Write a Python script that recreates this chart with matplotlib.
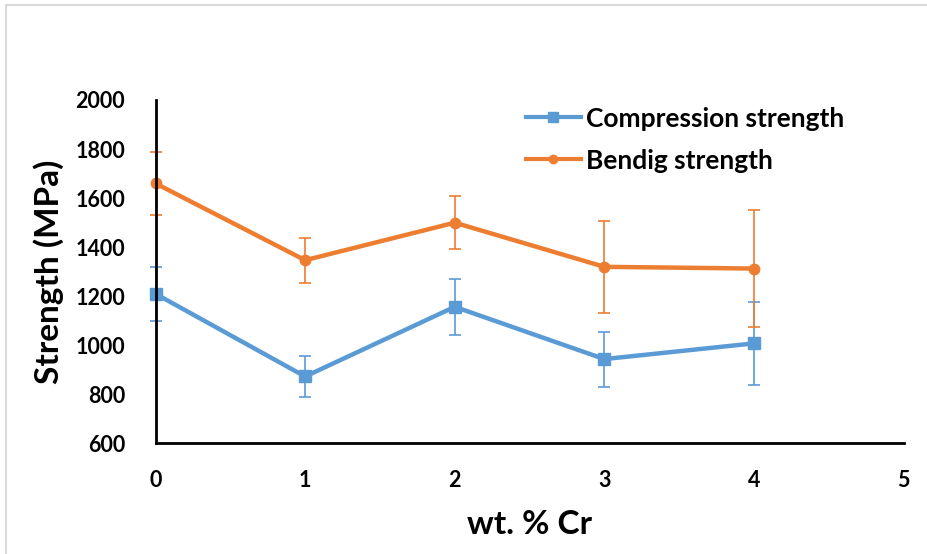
import matplotlib.pyplot as plt
from matplotlib.patches import Rectangle
from matplotlib.lines import Line2D

# Cr content (wt.%)
cr = [0, 1, 2, 3, 4]

# strength values (MPa) with standard deviations
compression = [1210, 873, 1157, 944, 1008]
compression_err = [110, 85, 115, 112, 170]
bending = [1660, 1347, 1500, 1320, 1313]
bending_err = [130, 92, 108, 187, 237]

blue = '#5B9BD5'
orange = '#ED7D31'

plt.rcParams['font.family'] = ['Lato', 'DejaVu Sans']
plt.rcParams['font.weight'] = 'bold'

fig = plt.figure(figsize=(9.28, 5.54), dpi=100)
ax = fig.add_axes([0.1676, 0.1995, 0.806, 0.62])

# thin grey frame around the chart area
fig.patches.append(Rectangle((0.0065, -0.05), 1.05, 1.041, transform=fig.transFigure,
                             fill=False, edgecolor='#d9d9d9', linewidth=1.5))

ax.errorbar(cr, compression, yerr=compression_err, color=blue, lw=3.2,
            marker='s', markersize=9, capsize=4, elinewidth=1.2, capthick=1.2,
            ecolor=blue, clip_on=False)
ax.errorbar(cr, bending, yerr=bending_err, color=orange, lw=3.2,
            marker='o', markersize=7.5, capsize=4, elinewidth=1.2, capthick=1.2,
            ecolor=orange, clip_on=False)

ax.set_xlim(0, 5)
ax.set_ylim(600, 2000)
ax.set_xticks([0, 1, 2, 3, 4, 5])
ax.set_yticks(range(600, 2001, 200))
ax.tick_params(length=0, labelsize=15.5)
ax.tick_params(axis='x', pad=19)
ax.tick_params(axis='y', pad=22)
for s in ['top', 'right']:
    ax.spines[s].set_visible(False)
for s in ['left', 'bottom']:
    ax.spines[s].set_linewidth(2)
    ax.spines[s].set_color('black')

ax.set_xlabel('wt. % Cr', fontsize=24, fontweight='bold', labelpad=14)
ax.set_ylabel('Strength (MPa)', fontsize=24, fontweight='bold', labelpad=8)

handles = [
    Line2D([], [], color=blue, lw=3, marker='s', markersize=7),
    Line2D([], [], color=orange, lw=3, marker='o', markersize=6),
]
leg = ax.legend(handles, ['Compression strength', 'Bendig strength'],
                loc='upper left', bbox_to_anchor=(0.463, 1.05), frameon=False,
                fontsize=19, handlelength=2.1, handletextpad=0.2, labelspacing=0.68)
for t in leg.get_texts():
    t.set_fontweight('bold')

fig.savefig('out.png', dpi=100)
